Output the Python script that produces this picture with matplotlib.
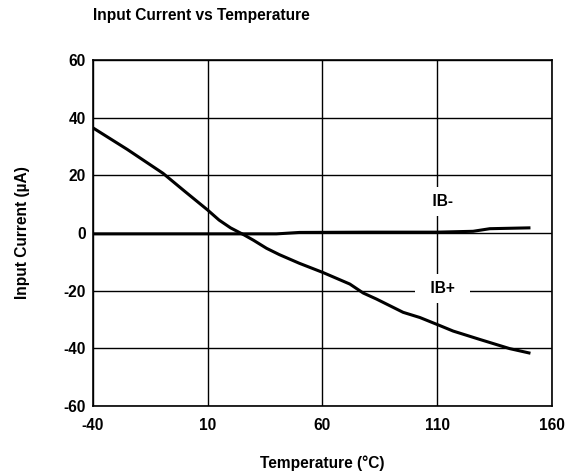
import matplotlib
matplotlib.use("Agg")
import matplotlib.pyplot as plt

plt.rcParams['font.family'] = ['Liberation Sans', 'DejaVu Sans']
plt.rcParams['font.weight'] = 'bold'
plt.rcParams['axes.labelweight'] = 'bold'
plt.rcParams['axes.unicode_minus'] = False

# IB+ curve (temperature in degC, current in uA)
ibp_temp = [-40, -25, -9.4, 0, 10, 15, 20, 26, 30, 35.7, 41.3, 50, 60.3, 72, 77.8, 83.6,
            95.2, 102.5, 110.9, 117, 128.6, 141.7, 150.7]
ibp_curr = [36.5, 29, 20.7, 14.5, 8, 4.5, 1.8, -0.7, -2.5, -5.3, -7.5, -10.5, -13.7, -17.7,
            -20.8, -22.9, -27.5, -29.3, -32, -34, -36.9, -40.1, -41.7]

# IB- curve
ibm_temp = [-40, 0, 40, 44, 50, 80, 110, 125.7, 133, 150.7]
ibm_curr = [-0.3, -0.3, -0.3, -0.1, 0.2, 0.3, 0.3, 0.6, 1.5, 1.8]

xticks = [-40, 10, 60, 110, 160]
yticks = [-60, -40, -20, 0, 20, 40, 60]

FS = 11.2

fig = plt.figure(figsize=(5.73, 4.73), dpi=100)
ax = fig.add_axes([0.162, 0.1416, 0.801, 0.7315])

ax.plot(ibp_temp, ibp_curr, color='black', lw=2.2, solid_capstyle='butt', zorder=3)
ax.plot(ibm_temp, ibm_curr, color='black', lw=2.2, solid_capstyle='butt', zorder=3)

ax.set_xlim(-40, 160)
ax.set_ylim(-60, 60)
ax.set_xticks(xticks)
ax.set_yticks(yticks)
ax.grid(True, color='black', lw=1.0)
ax.tick_params(length=0, labelsize=FS)
ax.tick_params(axis='x', pad=8.5)
ax.tick_params(axis='y', pad=5)
for s in ax.spines.values():
    s.set_linewidth(1.2)

box = dict(facecolor='white', edgecolor='none', pad=5)
ax.text(112.3, 11.1, '  IB-  ', ha='center', va='center', fontsize=FS, bbox=box, zorder=4)
ax.text(112.3, -19.3, '  IB+  ', ha='center', va='center', fontsize=FS, bbox=box, zorder=4)

ax.set_xlabel('Temperature (°C)', fontsize=FS, labelpad=16)
ax.set_ylabel('Input Current (µA)', fontsize=FS, labelpad=24)
fig.text(0.1625, 0.967, 'Input Current vs Temperature', fontsize=FS, ha='left', va='center')

fig.savefig('out.png', dpi=100)
